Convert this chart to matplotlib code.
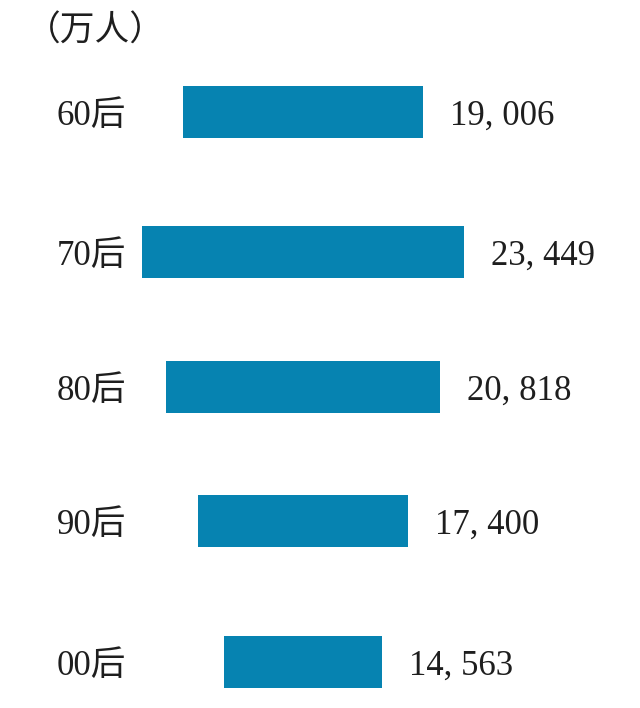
import matplotlib
matplotlib.use("Agg")
import matplotlib.pyplot as plt

# data
categories = ["60后", "70后", "80后", "90后", "00后"]
values = [19006, 23449, 20818, 17400, 14563]
value_labels = ["19, 006", "23, 449", "20, 818", "17, 400", "14, 563"]
unit_label = "（万人）"

# layout (pixel-like data coordinates)
W, H = 640, 708
center_x = 303
row_y = [112, 252, 387, 521, 662]
bar_h = 52
px_per_unit = 0.01836
base_value = 5920
label_gap = 27
bar_color = "#0683b1"
fonts = ["Liberation Serif", "Noto Sans CJK SC", "DejaVu Sans"]

fig = plt.figure(figsize=(W / 100, H / 100), dpi=100, facecolor="white")
ax = fig.add_axes([0, 0, 1, 1])
ax.set_xlim(0, W)
ax.set_ylim(H, 0)
ax.axis("off")

for cat, v, lab, y in zip(categories, values, value_labels, row_y):
    w = (v - base_value) * px_per_unit
    left = center_x - w / 2
    ax.barh(y, w, left=left, height=bar_h, color=bar_color)
    ax.text(57, y + 4, cat, fontsize=25, family=fonts, color="#1e1e1e",
            ha="left", va="center")
    ax.text(left + w + label_gap, y + 4, lab, fontsize=25, family=fonts,
            color="#1e1e1e", ha="left", va="center")

ax.text(26, 31, unit_label, fontsize=25, family=["Noto Sans CJK SC", "DejaVu Sans"],
        color="#1e1e1e", ha="left", va="center")

fig.savefig("out.png", dpi=100, facecolor="white")
